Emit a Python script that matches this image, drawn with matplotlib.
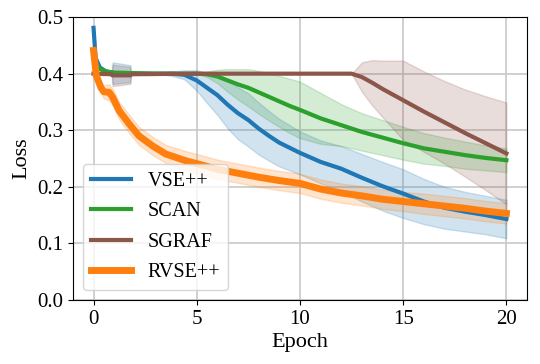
import matplotlib
matplotlib.use("Agg")
import matplotlib.pyplot as plt
import numpy as np

# VSE++
vse_epoch = [0, 0.1, 0.3, 0.6, 0.88, 0.92, 1.78, 1.82, 2.5, 3, 3.8, 4.4, 5, 5.5,
             6, 6.5, 7, 7.5, 8, 8.5, 9, 9.5, 10, 11, 12, 13, 14, 15, 16, 17,
             18, 19, 20]
vse_mean = [0.481, 0.428, 0.411, 0.404, 0.402, 0.401, 0.400, 0.400, 0.400,
            0.400, 0.400, 0.398, 0.388, 0.375, 0.362, 0.345, 0.330, 0.318,
            0.303, 0.290, 0.278, 0.269, 0.260, 0.244, 0.232, 0.216, 0.201,
            0.188, 0.174, 0.163, 0.156, 0.150, 0.143]
vse_std = [0, 0, 0, 0, 0, 0.019, 0.015, 0, 0, 0, 0.004, 0.008, 0.018, 0.027,
           0.035, 0.042, 0.046, 0.047, 0.046, 0.044, 0.042, 0.040, 0.038,
           0.038, 0.040, 0.042, 0.043, 0.043, 0.040, 0.037, 0.035, 0.034,
           0.034]

# SCAN
scan_epoch = [0, 0.1, 0.3, 0.6, 1, 2, 3, 4, 5, 5.5, 6, 6.5, 7, 7.5, 8, 8.5, 9,
              9.5, 10, 11, 12, 13, 14, 15, 16, 17, 18, 19, 20]
scan_mean = [0.430, 0.418, 0.408, 0.404, 0.402, 0.401, 0.400, 0.400, 0.400,
             0.399, 0.395, 0.388, 0.381, 0.375, 0.367, 0.359, 0.351, 0.343,
             0.336, 0.321, 0.309, 0.297, 0.287, 0.277, 0.268, 0.262, 0.256,
             0.251, 0.247]
scan_std = [0, 0, 0, 0, 0, 0, 0, 0, 0, 0.005, 0.012, 0.020, 0.027, 0.033,
            0.038, 0.042, 0.045, 0.048, 0.050, 0.045, 0.037, 0.033, 0.031,
            0.029, 0.027, 0.025, 0.024, 0.022, 0.021]

# SGRAF
sgraf_epoch = [0, 0.88, 0.92, 1.78, 1.82, 5, 10, 12.5, 13, 13.5, 14, 15, 16,
               17, 18, 19, 20]
sgraf_mean = [0.400, 0.399, 0.397, 0.397, 0.399, 0.400, 0.400, 0.400, 0.394,
              0.384, 0.373, 0.353, 0.333, 0.314, 0.295, 0.277, 0.259]
sgraf_std = [0, 0, 0.019, 0.015, 0, 0, 0, 0, 0.026, 0.040, 0.050, 0.070,
             0.071, 0.073, 0.077, 0.083, 0.090]

# RVSE++
rvse_epoch = [0, 0.13, 0.36, 0.5, 0.76, 0.93, 1.25, 1.73, 2.2, 2.87, 3.5, 4.47,
              5, 6, 7, 8, 9, 10, 11, 12, 13, 14, 15, 16, 17, 18, 19, 20]
rvse_mean = [0.441, 0.397, 0.375, 0.368, 0.367, 0.358, 0.334, 0.311, 0.290,
             0.272, 0.258, 0.246, 0.241, 0.231, 0.224, 0.217, 0.211, 0.206,
             0.196, 0.189, 0.184, 0.178, 0.174, 0.170, 0.166, 0.162, 0.157,
             0.153]
rvse_std = [0, 0.005, 0.009, 0.012, 0.014, 0.015, 0.015, 0.016, 0.016, 0.016,
            0.016, 0.017, 0.017, 0.017, 0.017, 0.017, 0.017, 0.017, 0.017,
            0.017, 0.017, 0.017, 0.017, 0.018, 0.018, 0.018, 0.018, 0.018]

series = [
    ("VSE++", vse_epoch, vse_mean, vse_std, "tab:blue", 3),
    ("SCAN", scan_epoch, scan_mean, scan_std, "tab:green", 3),
    ("SGRAF", sgraf_epoch, sgraf_mean, sgraf_std, "tab:brown", 3),
    ("RVSE++", rvse_epoch, rvse_mean, rvse_std, "tab:orange", 5),
]


def main():
    plt.rcParams["font.family"] = ["Liberation Serif", "DejaVu Serif"]

    fig, ax = plt.subplots(figsize=(5.4, 3.64), dpi=100)

    for name, x, m, s, color, lw in series:
        x = np.array(x)
        m = np.array(m)
        s = np.array(s)
        ax.fill_between(x, m - s, m + s, color=color, alpha=0.2, lw=1)
        ax.plot(x, m, color=color, lw=lw, label=name)

    ax.set_xlim(-1, 21)
    ax.set_ylim(0, 0.5)
    ax.set_xticks([0, 5, 10, 15, 20])
    ax.set_yticks(np.arange(0, 0.51, 0.1))
    ax.tick_params(labelsize=15)
    ax.set_xlabel("Epoch", fontsize=16, labelpad=3)
    ax.set_ylabel("Loss", fontsize=16, labelpad=4)
    ax.grid(True, color="#c8c8c8", lw=1.2)
    ax.set_axisbelow(True)
    ax.legend(loc="lower left", fontsize=14.5, handlelength=2.0,
              borderaxespad=0.5, labelspacing=0.55)

    fig.subplots_adjust(left=0.135, right=0.976, top=0.953, bottom=0.176)
    fig.savefig("out.png")


if __name__ == '__main__':
    main()
